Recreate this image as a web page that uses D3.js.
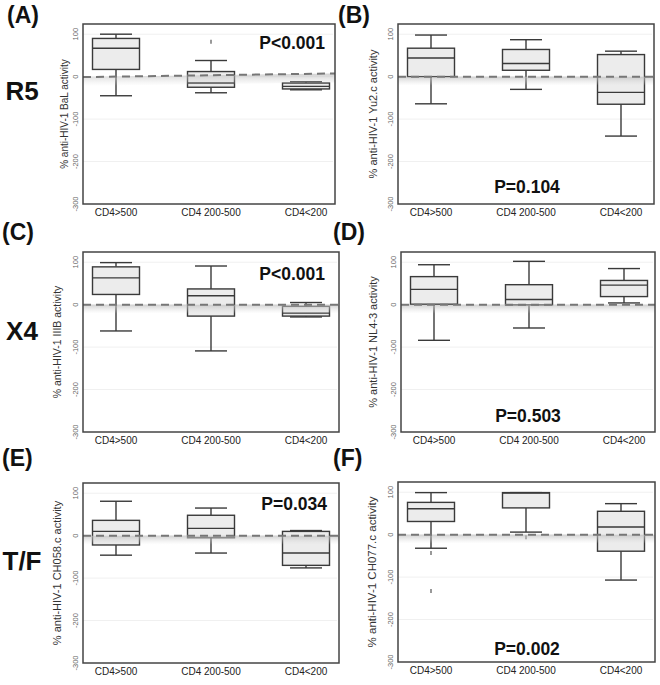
<!DOCTYPE html>
<html lang="en">
<head>
<meta charset="UTF-8">
<title>anti-HIV-1 activity by CD4 count</title>
<script src="https://cdnjs.cloudflare.com/ajax/libs/d3/7.8.5/d3.min.js"></script>
<style>
  body { margin: 0; background: #fff; font-family: "Liberation Sans", Arial, sans-serif; }
  svg { display: block; }
  .frame { fill: none; stroke: #444; stroke-width: 1.5; }
  .box { fill: #ececec; stroke: #3a3a3a; stroke-width: 1.4; }
  .whisk { stroke: #3a3a3a; stroke-width: 1.4; }
  .zero { stroke: #777; stroke-width: 2; stroke-dasharray: 8 5; }
  .grid { stroke: #f0f0f0; stroke-width: 1; }
</style>
</head>
<body>
<div id="chart"></div>
<script>
// ---- data ----
const categories = ["CD4>500", "CD4 200-500", "CD4<200"];
const yTicks = [100, 0, -100, -200, -300];
const panelLetters = ["(A)", "(B)", "(C)", "(D)", "(E)", "(F)"];
const rowLabels = ["R5", "X4", "T/F"];
const yTitles = [
  "% anti-HIV-1 BaL activity",
  "% anti-HIV-1 Yu2.c activity",
  "% anti-HIV-1 IIIB activity",
  "% anti-HIV-1 NL4-3 activity",
  "% anti-HIV-1 CH058.c activity",
  "% anti-HIV-1 CH077.c activity"
];
const pValues = ["P<0.001", "P=0.104", "P<0.001", "P=0.503", "P=0.034", "P=0.002"];

// box stats per group: [lower whisker, Q1, median, Q3, upper whisker]
const statsBaL   = [[-45, 17, 67, 90, 100], [-38, -25, -15, 12, 38], [-31, -29, -23, -15, -12]];
const statsYu2   = [[-64, 0, 44, 67, 98], [-30, 15, 31, 64, 87], [-140, -65, -37, 52, 60]];
const statsIIIB  = [[-62, 24, 63, 89, 99], [-109, -27, 21, 37, 91], [-29, -27, -20, -4, 5]];
const statsNL43  = [[-84, 1, 36, 66, 94], [-55, -1, 12, 47, 102], [4, 19, 46, 57, 85]];
const statsCH058 = [[-46, -22, 10, 36, 81], [-41, -5, 17, 48, 65], [-76, -70, -41, 10, 12]];
const statsCH077 = [[-32, 31, 61, 76, 99], [6, 63, 98, 99, 99], [-107, -39, 18, 55, 73]];

const outBaL   = [[], [82], []];
const outYu2   = [[], [], []];
const outIIIB  = [[], [], []];
const outNL43  = [[], [], []];
const outCH058 = [[], [], []];
const outCH077 = [[-43, -133], [-6], []];

// dashed reference line, value at left and right edge of plot
const refBaL = [-1, 7.5];
const refFlat = [0, 0];

const allStats = [statsBaL, statsYu2, statsIIIB, statsNL43, statsCH058, statsCH077];
const allOut = [outBaL, outYu2, outIIIB, outNL43, outCH058, outCH077];
const allRef = [refBaL, refFlat, refFlat, refFlat, refFlat, refFlat];

// ---- layout ----
const W = 660, H = 685;
const panels = [
  { x0: 83,  x1: 335, y0: 24,  y1: 204, titleX: 65,  titleSize: 10,   pAnchor: "end",    pX: 325, pY: 49,  lx: 7,   ly: 23 },
  { x0: 398, x1: 654, y0: 24,  y1: 204, titleX: 374, titleSize: 11,   pAnchor: "middle", pX: 527, pY: 193, lx: 338, ly: 23 },
  { x0: 83,  x1: 339, y0: 252, y1: 432, titleX: 58,  titleSize: 10.5, pAnchor: "end",    pX: 325, pY: 280, lx: 2,   ly: 240 },
  { x0: 401, x1: 655, y0: 252, y1: 432, titleX: 374, titleSize: 11,   pAnchor: "middle", pX: 528, pY: 422, lx: 333, ly: 240 },
  { x0: 83,  x1: 339, y0: 483, y1: 663, titleX: 58,  titleSize: 11,   pAnchor: "end",    pX: 327, pY: 510, lx: 2,   ly: 466 },
  { x0: 398, x1: 655, y0: 482, y1: 662, titleX: 373, titleSize: 11.5, pAnchor: "middle", pX: 527, pY: 655, lx: 333, ly: 466 }
];
const rowY = [100, 340, 570];
const boxW = 47, capW = 32;

const svg = d3.select("#chart").append("svg")
  .attr("width", W).attr("height", H);

const defs = svg.append("defs");
const grad = defs.append("linearGradient")
  .attr("id", "shade").attr("x1", 0).attr("y1", 0).attr("x2", 0).attr("y2", 1);
grad.append("stop").attr("offset", "0%").attr("stop-color", "#bbb").attr("stop-opacity", 0.7);
grad.append("stop").attr("offset", "100%").attr("stop-color", "#ddd").attr("stop-opacity", 0);

panels.forEach((p, i) => {
  const g = svg.append("g");
  const y = d3.scaleLinear().domain([-300, 124]).range([p.y1, p.y0]);
  const x = d3.scalePoint().domain(categories).range([p.x0 + 33, p.x0 + 223]);
  const xr = d3.scaleLinear().domain([0, 1]).range([p.x0, p.x1]);

  // faint grid
  g.selectAll(".grid").data(yTicks.filter(d => d > -300)).enter()
    .append("line").attr("class", "grid")
    .attr("x1", p.x0).attr("x2", p.x1 - 2)
    .attr("y1", d => y(d)).attr("y2", d => y(d));

  // y tick labels (rotated)
  g.selectAll(".ytl").data(yTicks).enter()
    .append("text")
    .attr("transform", d => `translate(${p.x0 - 5},${y(d)}) rotate(-90)`)
    .attr("text-anchor", "middle")
    .attr("font-size", 7.5).attr("fill", "#666")
    .text(d => d);

  // y title
  g.append("text")
    .attr("transform", `translate(${p.titleX},${(p.y0 + p.y1) / 2}) rotate(-90)`)
    .attr("text-anchor", "middle").attr("dominant-baseline", "middle")
    .attr("font-size", p.titleSize).attr("fill", "#333")
    .text(yTitles[i]);

  // x labels
  g.selectAll(".xtl").data(categories).enter()
    .append("text")
    .attr("x", d => x(d)).attr("y", p.y1 + 12)
    .attr("text-anchor", "middle")
    .attr("font-size", 10).attr("fill", "#222")
    .text(d => d);

  // boxes
  const stats = allStats[i];
  categories.forEach((c, k) => {
    const s = stats[k];
    const cx = x(c);
    g.append("line").attr("class", "whisk")
      .attr("x1", cx).attr("x2", cx).attr("y1", y(s[4])).attr("y2", y(s[3]));
    g.append("line").attr("class", "whisk")
      .attr("x1", cx).attr("x2", cx).attr("y1", y(s[1])).attr("y2", y(s[0]));
    g.append("line").attr("class", "whisk")
      .attr("x1", cx - capW / 2).attr("x2", cx + capW / 2).attr("y1", y(s[4])).attr("y2", y(s[4]));
    g.append("line").attr("class", "whisk")
      .attr("x1", cx - capW / 2).attr("x2", cx + capW / 2).attr("y1", y(s[0])).attr("y2", y(s[0]));
    g.append("rect").attr("class", "box")
      .attr("x", cx - boxW / 2).attr("width", boxW)
      .attr("y", y(s[3])).attr("height", Math.max(1, y(s[1]) - y(s[3])));
    g.append("line").attr("class", "whisk")
      .attr("x1", cx - boxW / 2).attr("x2", cx + boxW / 2)
      .attr("y1", y(s[2])).attr("y2", y(s[2]));
    allOut[i][k].forEach(v => {
      g.append("line").attr("stroke", "#555").attr("stroke-width", 1.2)
        .attr("x1", cx).attr("x2", cx).attr("y1", y(v) - 2).attr("y2", y(v) + 2);
    });
  });

  // dashed reference line with soft shadow
  const r = allRef[i];
  g.append("polygon")
    .attr("points", [[xr(0), y(r[0])], [xr(1), y(r[1])], [xr(1), y(r[1]) + 9], [xr(0), y(r[0]) + 9]].join(" "))
    .attr("fill", "url(#shade)");
  g.append("line").attr("class", "zero")
    .attr("x1", xr(0)).attr("x2", xr(1))
    .attr("y1", y(r[0])).attr("y2", y(r[1]));

  // frame
  g.append("rect").attr("class", "frame")
    .attr("x", p.x0).attr("y", p.y0)
    .attr("width", p.x1 - p.x0).attr("height", p.y1 - p.y0);

  // p value
  g.append("text")
    .attr("x", p.pX).attr("y", p.pY)
    .attr("text-anchor", p.pAnchor)
    .attr("font-size", 17.5).attr("font-weight", "bold").attr("fill", "#111")
    .text(pValues[i]);

  // panel letter
  svg.append("text")
    .attr("x", p.lx).attr("y", p.ly)
    .attr("font-size", 23).attr("font-weight", "bold").attr("fill", "#111")
    .text(panelLetters[i]);
});

rowLabels.forEach((t, j) => {
  svg.append("text")
    .attr("x", 22).attr("y", rowY[j])
    .attr("text-anchor", "middle")
    .attr("font-size", 26).attr("font-weight", "bold").attr("fill", "#111")
    .text(t);
});
</script>
</body>
</html>
